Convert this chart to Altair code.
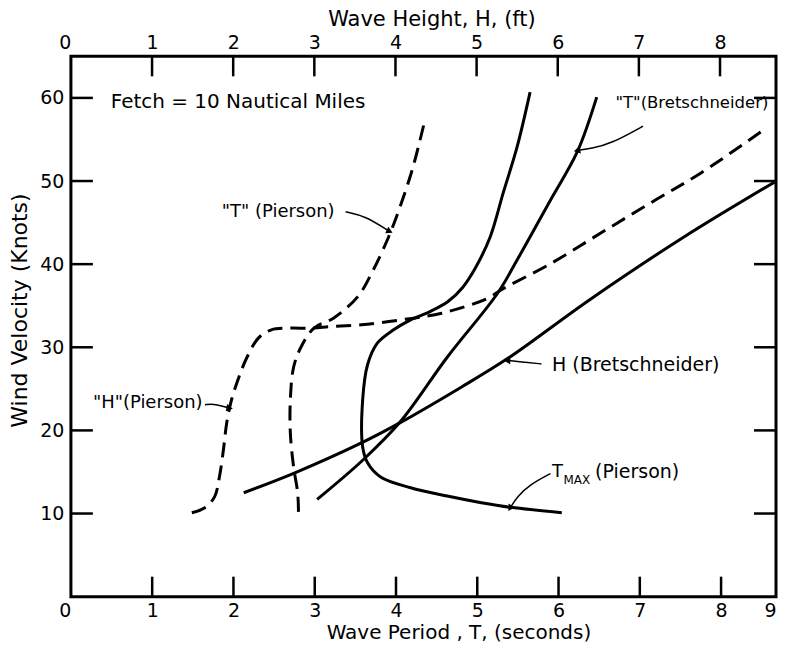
import altair as alt
import pandas as pd

# ---------------- axis tick values ----------------
T_TICKS = [0, 1, 2, 3, 4, 5, 6, 7, 8, 9]          # wave period (s), bottom
H_TICKS = [0, 1, 2, 3, 4, 5, 6, 7, 8]             # wave height (ft), top
V_TICKS = [10, 20, 30, 40, 50, 60]                # wind velocity (knots)

# ---------------- curves ----------------
# "T" (Pierson) - dashed, period in seconds
TP_T = [2.80, 2.79, 2.74, 2.70, 2.70, 2.74, 2.83, 2.99, 3.23, 3.53, 3.72, 3.91, 4.05, 4.21, 4.34]
TP_V = [10.2, 12.5, 15.6, 19.7, 23.7, 27.6, 30.0, 32.3, 33.5, 36.1, 39.3, 43.3, 46.9, 51.7, 56.7]

# T_MAX (Pierson) - solid, period in seconds
TM_T = [5.65, 5.49, 5.32, 5.16, 4.98, 4.82, 4.64, 4.42, 4.18, 3.97, 3.77, 3.65, 3.59, 3.59,
        3.65, 3.81, 4.18, 4.63, 5.05, 5.41, 6.04]
TM_V = [60.7, 54.1, 48.6, 43.3, 39.6, 37.2, 35.5, 34.3, 33.3, 32.1, 30.5, 27.9, 23.7, 18.0,
        16.1, 14.4, 13.1, 12.1, 11.3, 10.75, 10.1]

# "T" (Bretschneider) - solid, period in seconds
TB_T = [3.03, 3.60, 4.05, 4.63, 5.25, 5.49, 5.90, 6.23, 6.47]
TB_V = [11.7, 16.5, 21.0, 28.8, 36.5, 40.5, 47.7, 53.5, 60.1]

# "H" (Pierson) - dashed, height in feet
HP_H = [1.49, 1.65, 1.77, 1.83, 1.88, 1.92, 1.98, 2.07, 2.17, 2.31, 2.47, 2.68, 2.97, 3.21,
        3.58, 4.07, 4.57, 5.14, 5.30, 5.92, 6.54, 7.15, 7.77, 8.53]
HP_V = [10.1, 10.7, 12.0, 14.4, 17.7, 20.9, 23.7, 26.4, 28.8, 31.1, 32.1, 32.3, 32.3, 32.5,
        32.7, 33.3, 34.1, 35.9, 36.9, 40.1, 43.8, 47.4, 51.0, 56.1]

# H (Bretschneider) - solid, height in feet
HB_H = [2.13, 2.76, 3.58, 4.07, 4.81, 5.39, 6.39, 7.56, 8.78]
HB_V = [12.5, 14.9, 18.5, 21.0, 25.2, 28.7, 35.7, 43.3, 50.5]

# ---------------- annotations (in seconds / knots) ----------------
LBL_TEXT = ["Fetch = 10 Nautical Miles", "\"T\" (Pierson)", "\"H\"(Pierson)",
            "\"T\"(Bretschneider)", "H (Bretschneider)", "T", "(Pierson)"]
LBL_T = [0.49, 2.55, 1.62, 6.70, 5.92, 5.92, 6.45]
LBL_V = [59.5, 46.3, 23.3, 59.4, 27.9, 15.0, 15.0]
LBL_ALIGN = ["left", "center", "right", "left", "left", "left", "left"]
LBL_SIZE = [20, 18, 18, 16.5, 19, 18, 19]
SUB_TEXT = ["MAX"]
SUB_T = [6.06]
SUB_V = [14.0]

# arrows: shaft points and arrowhead direction
ARROW_T = [[3.38, 3.62, 3.91], [1.65, 1.78, 1.94], [7.04, 6.65, 6.40, 6.24],
           [5.79, 5.59, 5.38], [5.90, 5.65, 5.49, 5.41]]
ARROW_V = [[46.3, 45.8, 44.0], [23.1, 23.2, 22.7], [56.6, 54.5, 53.9, 53.7],
           [28.0, 28.2, 28.4], [14.8, 13.5, 12.0, 10.75]]
ARROW_ANGLE = [115, 100, 258, 272, 212]

W, H = 706, 541
FONT = "DejaVu Sans"
EDGE_ALIGN = {"condition": {"test": "datum.value == 0 || datum.value == 9", "value": "right"},
              "value": "center"}

x_t = alt.X("t:Q",
            scale=alt.Scale(domain=[0, 8, 9], range=[0, 651, W], nice=False, zero=False),
            axis=alt.Axis(orient="bottom", values=T_TICKS, title="Wave Period , T, (seconds)",
                          ticks=False, domain=False, grid=False, labelPadding=5,
                          titlePadding=2, titleFontSize=20, titleX=388,
                          labelAlign=EDGE_ALIGN))
x_h = alt.X("h:Q",
            scale=alt.Scale(domain=[0, 8.69], nice=False, zero=False),
            axis=alt.Axis(orient="top", values=H_TICKS, title="Wave Height, H, (ft)",
                          ticks=False, domain=False, grid=False, labelPadding=4,
                          titlePadding=4, titleFontSize=21, titleX=361,
                          labelAlign=EDGE_ALIGN))
y_v = alt.Y("v:Q",
            scale=alt.Scale(domain=[0, 65], nice=False, zero=False),
            axis=alt.Axis(values=V_TICKS, title="Wind Velocity (Knots)",
                          ticks=False, domain=False, grid=False, labelPadding=7,
                          titlePadding=8, titleFontSize=22, titleY=254))


def curve(xs, vs, field, xenc, dashed):
    df = pd.DataFrame({field: xs, "v": vs, "i": list(range(len(xs)))})
    kw = dict(color="black", strokeWidth=3, interpolate="catmull-rom", clip=True)
    if dashed:
        kw["strokeDash"] = [15, 8]
        kw["strokeCap"] = "butt"
    return alt.Chart(df).mark_line(**kw).encode(x=xenc, y=y_v, order="i:Q")


# inward ticks
left_ticks = alt.Chart(pd.DataFrame({"v": V_TICKS})).mark_rule(color="black", strokeWidth=2.5).encode(
    y=y_v, x=alt.value(0), x2=alt.value(22))
right_ticks = alt.Chart(pd.DataFrame({"v": V_TICKS})).mark_rule(color="black", strokeWidth=2.5).encode(
    y=y_v, x=alt.value(W - 22), x2=alt.value(W))
bottom_ticks = alt.Chart(pd.DataFrame({"t": T_TICKS[1:-1]})).mark_rule(color="black", strokeWidth=2.5).encode(
    x=x_t, y=alt.value(H), y2=alt.value(H - 20))
top_ticks = alt.Chart(pd.DataFrame({"h": H_TICKS[1:]})).mark_rule(color="black", strokeWidth=2.5).encode(
    x=x_h, y=alt.value(0), y2=alt.value(20))

bottom_layers = [left_ticks, right_ticks, bottom_ticks,
                 curve(TP_T, TP_V, "t", x_t, True),
                 curve(TM_T, TM_V, "t", x_t, False),
                 curve(TB_T, TB_V, "t", x_t, False)]

for txt, tt, vv, al, sz in zip(LBL_TEXT, LBL_T, LBL_V, LBL_ALIGN, LBL_SIZE):
    bottom_layers.append(
        alt.Chart(pd.DataFrame({"t": [tt], "v": [vv], "label": [txt]}))
        .mark_text(align=al, baseline="middle", fontSize=sz, font=FONT, color="black")
        .encode(x=x_t, y=y_v, text="label:N"))
for txt, tt, vv in zip(SUB_TEXT, SUB_T, SUB_V):
    bottom_layers.append(
        alt.Chart(pd.DataFrame({"t": [tt], "v": [vv], "label": [txt]}))
        .mark_text(align="left", baseline="middle", fontSize=12, font=FONT, color="black")
        .encode(x=x_t, y=y_v, text="label:N"))

for ts, vs, ang in zip(ARROW_T, ARROW_V, ARROW_ANGLE):
    df = pd.DataFrame({"t": ts, "v": vs, "i": list(range(len(ts)))})
    bottom_layers.append(
        alt.Chart(df).mark_line(color="black", strokeWidth=1.5, interpolate="basis")
        .encode(x=x_t, y=y_v, order="i:Q"))
    bottom_layers.append(
        alt.Chart(pd.DataFrame({"t": [ts[-1]], "v": [vs[-1]]}))
        .mark_point(shape="triangle", filled=True, size=55, color="black", opacity=1, angle=ang)
        .encode(x=x_t, y=y_v))

bottom = alt.layer(*bottom_layers)
top = alt.layer(top_ticks,
                curve(HP_H, HP_V, "h", x_h, True),
                curve(HB_H, HB_V, "h", x_h, False))

chart = (alt.layer(bottom, top)
         .resolve_scale(x="independent")
         .properties(width=W, height=H, padding=0, background="white")
         .configure_view(stroke="black", strokeWidth=3)
         .configure_axis(labelFont=FONT, labelFontSize=19, labelColor="black",
                         titleFont=FONT, titleFontWeight="normal",
                         titleColor="black", labelFlush=False))

chart.save("out.html", embed_options={"renderer": "svg", "actions": False})
